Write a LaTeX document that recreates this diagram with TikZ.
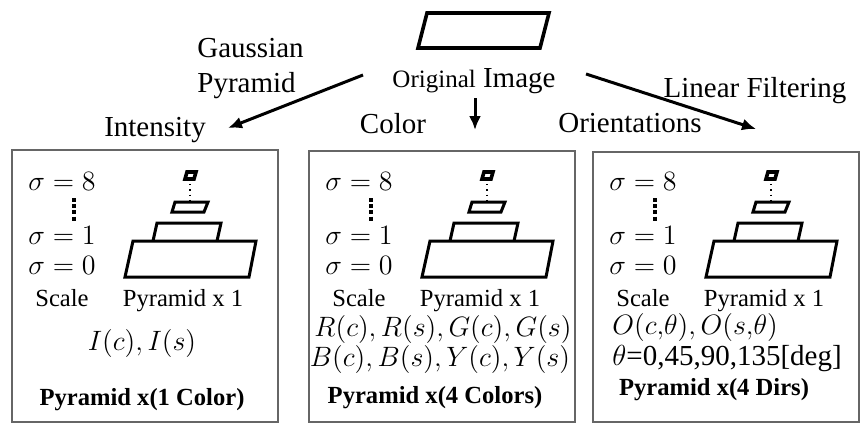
\RequirePackage{fix-cm}
\documentclass[tikz,border=0pt]{standalone}
\usepackage{fontspec}
\setmainfont{Liberation Serif}
\usetikzlibrary{arrows.meta, positioning}

\begin{document}
\begin{tikzpicture}[
  x=0.5pt, y=-0.5pt,
  panel/.style = {draw=black!60, line width=0.8pt},
  lvl/.style   = {draw=black, line width=1.5pt, line join=miter},
  lbl/.style   = {font=\fontsize{14.5}{17}\selectfont, inner sep=0pt, anchor=base},
  txt/.style   = {font=\fontsize{12.3}{14}\selectfont, inner sep=0pt, anchor=base},
  mth/.style   = {font=\fontsize{14}{16}\selectfont, inner sep=0pt, anchor=base},
  ttl/.style   = {font=\fontsize{12.3}{14}\selectfont\bfseries, inner sep=0pt, anchor=base},
  arr/.style   = {-{Latex[length=7pt, width=6pt]}, line width=1.5pt}
]
\useasboundingbox (0,0) rectangle (861,423);

\draw[lvl, line width=1.8pt] (418,48) -- (427,13) -- (549,13) -- (540,48) -- cycle;
\node[lbl] (orig) at (474,87) {{\fontsize{12.5}{14}\selectfont Original} Image};

\node[lbl, anchor=base west] (gauss) at (197,57) {Gaussian};
\node[lbl, anchor=base west] (gpyr)  at (197,92) {Pyramid};
\node[lbl] (linf)   at (755,97)  {Linear Filtering};
\node[lbl] (inten)  at (155,136) {Intensity};
\node[lbl] (color)  at (393,133) {Color};
\node[lbl] (orient) at (630,132) {Orientations};

\coordinate (srcL) at (363,75);  \coordinate (dstL) at (228,128);
\coordinate (srcC) at (475,98);  \coordinate (dstC) at (475,130);
\coordinate (srcR) at (586,74);  \coordinate (dstR) at (756,129);
\draw[arr] (srcL) -- (dstL);
\draw[arr] (srcC) -- (dstC);
\draw[arr] (srcR) -- (dstR);

\draw[panel] (12,150)  rectangle (278,422);
\draw[panel] (309,151) rectangle (575,422);
\draw[panel] (593,152) rectangle (859,422);

\foreach \bx/\id in {12/a, 309/b, 593/c} {
  \begin{scope}[shift={(\bx,0)}]
    \node[mth] (s8\id) at (50,190) {$\sigma = 8$};
    \node[mth] (s1\id) at (50,244) {$\sigma = 1$};
    \node[mth] (s0\id) at (50,274) {$\sigma = 0$};
    \node[txt] (sc\id) at (50,306) {Scale};
    \node[txt] (px\id) at (171,306) {Pyramid x 1};
    \draw[line width=2pt, dash pattern=on 2pt off 1.1pt] (62,198) -- (62,222);
    \draw[lvl] (113,277) -- (121,241) -- (244,241) -- (237,277) -- cycle;
    \draw[lvl] (141,241) -- (145,223) -- (209,223) -- (205,241);
    \draw[lvl] (160,212) -- (163,202) -- (196,202) -- (192,212) -- cycle;
    \draw[lvl, line width=1.8pt] (173,179) -- (175,172) -- (184,172) -- (182,179) -- cycle;
    \draw[line width=0.6pt, dotted] (178,179) -- (178,202);
  \end{scope}
}

\node[mth] (feata) at (142,350) {$I(c), I(s)$};
\node[ttl] (ttla)  at (142,405) {Pyramid x(1 Color)};

\node[mth] (featb) at (443,336.5) {$R(c), R(s), G(c), G(s)$};
\node[mth] (featb2) at (440,366.5) {$B(c), B(s), Y(c), Y(s)$};
\node[ttl] (ttlb)  at (435,403) {Pyramid x(4 Colors)};

\node[mth, anchor=base west] (featc) at (612,334) {$O(c{,}\theta), O(s{,}\theta)$};
\node[txt, anchor=base west, font=\fontsize{14.5}{16}\selectfont] (featc2) at (612,365) {$\theta$=0,45,90,135[deg]};
\node[ttl] (ttlc)  at (714,395) {Pyramid x(4 Dirs)};
\end{tikzpicture}
\end{document}
